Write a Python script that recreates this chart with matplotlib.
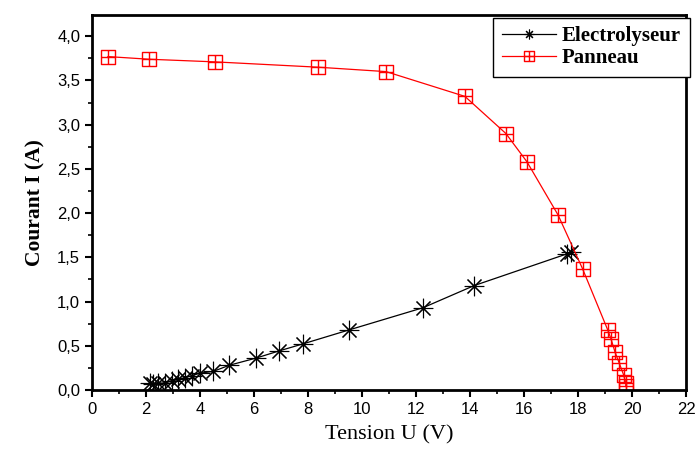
# Courbes I-U : electrolyseur et panneau photovoltaique
import numpy as np
import matplotlib.pyplot as plt
from matplotlib.path import Path
from matplotlib.ticker import MultipleLocator, FuncFormatter

# Donnees
u_elec = [2.15, 2.27, 2.46, 2.70, 2.95, 3.20, 3.44, 3.69, 4.00, 4.49, 5.09,
          6.07, 6.91, 7.80, 9.53, 12.26, 14.15, 17.60, 17.75]
i_elec = [0.075, 0.07, 0.075, 0.08, 0.10, 0.12, 0.14, 0.16, 0.19, 0.21, 0.28,
          0.36, 0.44, 0.52, 0.68, 0.93, 1.18, 1.54, 1.56]

u_pan = [0.59, 2.11, 4.56, 8.37, 10.89, 13.81, 15.33, 16.11, 17.26, 18.17,
         19.10, 19.22, 19.37, 19.52, 19.69, 19.77, 19.77]
i_pan = [3.77, 3.74, 3.71, 3.65, 3.60, 3.32, 2.90, 2.58, 1.98, 1.37,
         0.68, 0.58, 0.43, 0.31, 0.17, 0.08, 0.05]

# marqueur carre avec une croix (style Origin)
verts = [(-1, -1), (1, -1), (1, 1), (-1, 1), (-1, -1),
         (0, -1), (0, 1), (-1, 0), (1, 0)]
codes = [Path.MOVETO, Path.LINETO, Path.LINETO, Path.LINETO, Path.CLOSEPOLY,
         Path.MOVETO, Path.LINETO, Path.MOVETO, Path.LINETO]
square_plus = Path(verts, codes)

fig = plt.figure(figsize=(7, 4.55), dpi=100)
ax = fig.add_axes([0.1314, 0.1429, 0.8486, 0.8241])

ax.plot(u_elec, i_elec, color='black', lw=0.9, marker=(8, 2, 0), ms=14,
        mew=0.8, label='Electrolyseur')
ax.plot(u_pan, i_pan, color='red', lw=0.9, marker=square_plus, ms=10.5,
        mfc='none', mec='red', mew=1.0, label='Panneau')

ax.set_xlim(0, 22)
ax.set_ylim(0, 4.24)
ax.xaxis.set_major_locator(MultipleLocator(2))
ax.xaxis.set_minor_locator(MultipleLocator(1))
ax.yaxis.set_major_locator(MultipleLocator(0.5))
ax.yaxis.set_minor_locator(MultipleLocator(0.25))
ax.yaxis.set_major_formatter(FuncFormatter(lambda v, p: f"{v:.1f}".replace('.', ',')))

for lab in ax.get_xticklabels() + ax.get_yticklabels():
    lab.set_family('Liberation Sans')
    lab.set_fontsize(12)
ax.tick_params(which='major', direction='out', length=5, width=1.5)
ax.tick_params(which='minor', direction='out', length=3, width=1.2)
for s in ax.spines.values():
    s.set_linewidth(2)

ax.set_xlabel('Tension U (V)', family='Liberation Serif', fontsize=16,
              labelpad=6)
ax.set_ylabel('Courant I (A)', family='Liberation Serif', fontsize=15.5,
              fontweight='bold', labelpad=8)

leg = ax.legend(loc='upper right', bbox_to_anchor=(1.006, 0.992),
                prop={'family': 'Liberation Serif', 'weight': 'bold', 'size': 15},
                fancybox=False, edgecolor='black', framealpha=1,
                handlelength=2.6, handletextpad=0.3, borderpad=0.4,
                borderaxespad=0.0, labelspacing=0.1)
leg.get_frame().set_linewidth(1.0)
for h in leg.legend_handles:
    h.set_markersize(7)

fig.savefig('out.png', dpi=100)
